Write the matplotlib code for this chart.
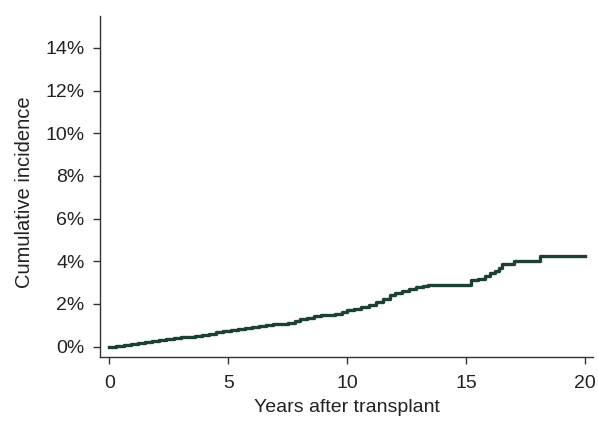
import matplotlib
matplotlib.use("Agg")
import matplotlib.pyplot as plt
from matplotlib.ticker import FuncFormatter

# Data (years, cumulative incidence in %)
years = [0, 0.3, 0.6, 0.9, 1.2, 1.5, 1.8, 2.1, 2.4, 2.7, 3.0, 3.3, 3.6, 3.9,
         4.2, 4.5, 4.8, 5.1, 5.4, 5.7, 6.0, 6.3, 6.6, 6.9, 7.2, 7.5, 7.8,
         8.0, 8.3, 8.6, 8.9, 9.2, 9.5, 9.8, 10.0, 10.3, 10.6, 10.9, 11.2,
         11.5, 11.8, 12.0, 12.3, 12.6, 12.9, 13.2, 13.4, 15.2, 15.5, 15.8,
         16.0, 16.2, 16.4, 16.5, 17.0, 18.1, 20.0]
incidence = [0.00, 0.03, 0.07, 0.11, 0.16, 0.20, 0.24, 0.29, 0.34, 0.39,
             0.43, 0.47, 0.51, 0.55, 0.60, 0.68, 0.72, 0.77, 0.81, 0.85,
             0.90, 0.95, 1.00, 1.04, 1.08, 1.12, 1.22, 1.30, 1.36, 1.41,
             1.46, 1.50, 1.53, 1.62, 1.70, 1.76, 1.84, 1.95, 2.10, 2.25,
             2.42, 2.52, 2.60, 2.68, 2.78, 2.85, 2.88, 3.10, 3.18, 3.30,
             3.44, 3.55, 3.68, 3.88, 4.00, 4.23, 4.23]

x_ticks = [0, 5, 10, 15, 20]
y_ticks = [0, 2, 4, 6, 8, 10, 12, 14]

plt.rcParams['font.family'] = ['Liberation Sans', 'DejaVu Sans']

fig = plt.figure(figsize=(5.98, 4.23), dpi=100)
ax = fig.add_axes([0.1672, 0.156, 0.8244, 0.806])

ax.plot(years, incidence, drawstyle='steps-post', color='#1d4034', lw=2.4)

ax.set_xlim(-0.39, 20.33)
ax.set_ylim(-0.49, 15.49)
ax.set_xticks(x_ticks)
ax.set_yticks(y_ticks)
ax.yaxis.set_major_formatter(FuncFormatter(lambda v, p: f"{int(v)}%"))

for s in ['top', 'right']:
    ax.spines[s].set_visible(False)
for s in ['left', 'bottom']:
    ax.spines[s].set_color('#333333')
    ax.spines[s].set_linewidth(1.0)

ax.tick_params(axis='both', direction='out', length=5, width=1,
               color='#333333', labelcolor='#222222', labelsize=14)
ax.tick_params(axis='x', pad=8)
ax.tick_params(axis='y', pad=6)

ax.set_xlabel('Years after transplant', fontsize=14, color='#222222', labelpad=5)
ax.set_ylabel('Cumulative incidence', fontsize=14.5, color='#222222')
ax.yaxis.set_label_coords(-0.133, 0.484)

fig.savefig('out.png', dpi=100)
